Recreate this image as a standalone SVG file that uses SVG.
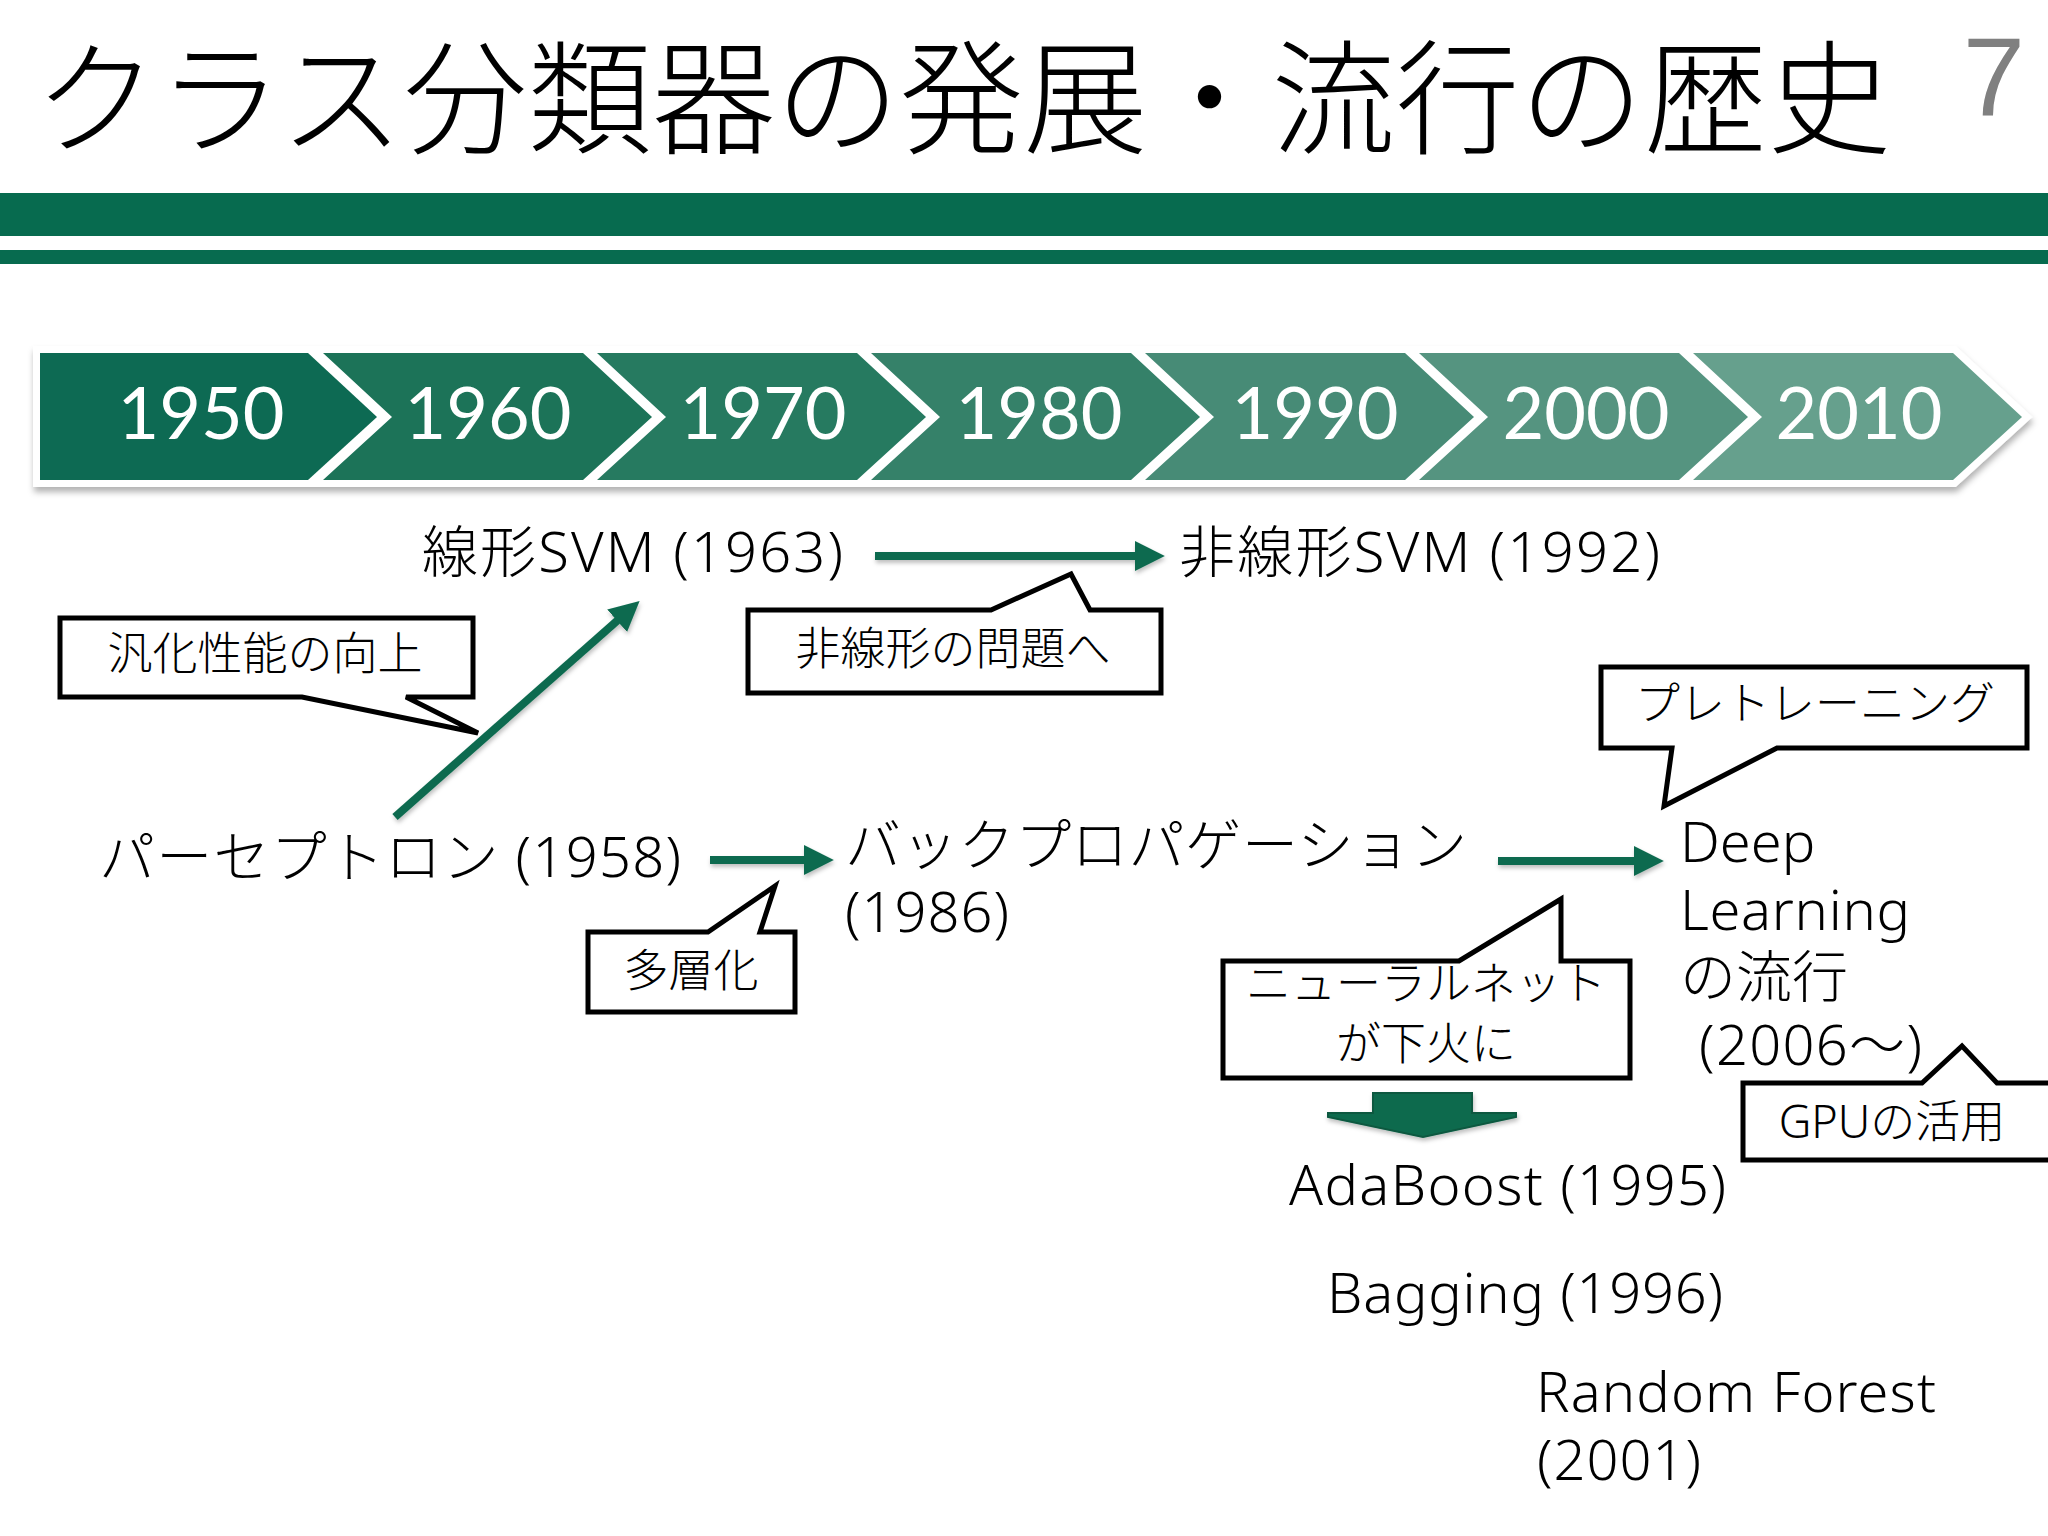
<svg xmlns="http://www.w3.org/2000/svg" width="2048" height="1536" viewBox="0 0 2048 1536">
<defs>
<style>
.t{font-family:"Noto Sans","Noto Sans CJK JP",sans-serif;font-weight:300;fill:#000}
.m{font-size:56px}
.c{font-size:45px;text-anchor:middle}
.yr{font-family:Lato,"Noto Sans",sans-serif;font-size:72px;fill:#fff;text-anchor:middle}
.call{fill:#fff;stroke:#000;stroke-width:5;stroke-linejoin:miter}
.chev{stroke:#fff;stroke-width:14;stroke-linejoin:miter;paint-order:stroke}
.arr{stroke:#0B6B4F;stroke-width:8;fill:none;marker-end:url(#ah)}
</style>
<marker id="ah" markerUnits="userSpaceOnUse" markerWidth="30" markerHeight="30" viewBox="0 0 26 26" refX="1" refY="13" orient="auto">
<path d="M0,0 L26,13 L0,26 Z" fill="#0B6B4F"/>
</marker>
<filter id="sh" x="-5%" y="-20%" width="110%" height="150%">
<feDropShadow dx="1" dy="5" stdDeviation="3" flood-color="#000" flood-opacity="0.3"/>
</filter>
<filter id="ash" x="-10%" y="-50%" width="120%" height="200%">
<feDropShadow dx="1" dy="3" stdDeviation="2" flood-color="#000" flood-opacity="0.25"/>
</filter>
</defs>
<rect width="2048" height="1536" fill="#fff"/>

<g id="title">
<text class="t" x="34" y="144" font-size="124">クラス分類器の発展・流行の歴史</text>
<text x="1994" y="115" font-family="'Liberation Sans',sans-serif" font-size="112" fill="#808080" text-anchor="middle">7</text>
<rect x="0" y="193" width="2048" height="43" fill="#076B4F"/>
<rect x="0" y="250" width="2048" height="14" fill="#076B4F"/>
</g>

<g id="timeline" filter="url(#sh)">
<polygon class="chev" fill="#0F6B52" points="40,353 308,353 377,417 308,480 40,480"/>
<polygon class="chev" fill="#1A7358" points="323,353 583,353 652,417 583,480 323,480 392,417"/>
<polygon class="chev" fill="#277A61" points="597,353 857,353 926,417 857,480 597,480 666,417"/>
<polygon class="chev" fill="#348169" points="871,353 1131,353 1200,417 1131,480 871,480 940,417"/>
<polygon class="chev" fill="#468B76" points="1145,353 1405,353 1474,417 1405,480 1145,480 1214,417"/>
<polygon class="chev" fill="#559480" points="1419,353 1679,353 1748,417 1679,480 1419,480 1488,417"/>
<polygon class="chev" fill="#66A08D" points="1693,353 1953,353 2022,417 1953,480 1693,480 1762,417"/>
</g>
<g id="years">
<text class="yr" x="201" y="439">1950</text>
<text class="yr" x="488" y="439">1960</text>
<text class="yr" x="763" y="439">1970</text>
<text class="yr" x="1039" y="439">1980</text>
<text class="yr" x="1315" y="439">1990</text>
<text class="yr" x="1586" y="439">2000</text>
<text class="yr" x="1859" y="439">2010</text>
</g>

<g id="connectors" filter="url(#ash)">
<line class="arr" x1="875" y1="556" x2="1136" y2="556"/>
<line class="arr" x1="395" y1="817" x2="618" y2="620"/>
<line class="arr" x1="710" y1="860" x2="805" y2="860"/>
<line class="arr" x1="1498" y1="861" x2="1635" y2="861"/>
<polygon id="down-arrow" points="1373,1093 1472,1093 1472,1113 1516,1113 1516,1117 1423,1137 1328,1117 1328,1113 1373,1113" fill="#0B6B4E" stroke="#08583F" stroke-width="2"/>
</g>

<g id="n-linear-svm"><text class="t m" x="422" y="572" textLength="421" lengthAdjust="spacing">線形SVM (1963)</text></g>
<g id="n-nonlinear-svm"><text class="t m" x="1179" y="572" textLength="481" lengthAdjust="spacing">非線形SVM (1992)</text></g>
<g id="n-perceptron"><text class="t m" x="99" y="877" textLength="582" lengthAdjust="spacing">パーセプトロン (1958)</text></g>
<g id="n-backprop"><text class="t m" x="845" y="865" textLength="622" lengthAdjust="spacing">バックプロパゲーション</text><text class="t m" x="845" y="932" textLength="164" lengthAdjust="spacing">(1986)</text></g>
<g id="n-deep">
<text class="t m" x="1680" y="862">Deep</text>
<text class="t m" x="1680" y="930" textLength="230" lengthAdjust="spacing">Learning</text>
<text class="t m" x="1680" y="997">の流行</text>
<text class="t m" x="1699" y="1065" textLength="223" lengthAdjust="spacing">(2006～)</text>
</g>
<g id="n-adaboost"><text class="t m" x="1289" y="1205" textLength="437" lengthAdjust="spacing">AdaBoost (1995)</text></g>
<g id="n-bagging"><text class="t m" x="1327" y="1313" textLength="396" lengthAdjust="spacing">Bagging (1996)</text></g>
<g id="n-rf"><text class="t m" x="1536" y="1412" textLength="400" lengthAdjust="spacing">Random Forest</text><text class="t m" x="1537" y="1480" textLength="164" lengthAdjust="spacing">(2001)</text></g>

<g id="c-generalization">
<path class="call" d="M60,618 H473 V697 H406 L478,733 L302,697 H60 Z"/>
<text class="t c" x="265" y="670">汎化性能の向上</text>
</g>
<g id="c-nonlinear">
<path class="call" d="M748,610 H991 L1071,574 L1090,610 H1161 V693 H748 Z"/>
<text class="t c" x="953" y="665">非線形の問題へ</text>
</g>
<g id="c-multilayer">
<path class="call" d="M588,932 H708 L775,886 L760,932 H795 V1012 H588 Z"/>
<text class="t c" x="691" y="987">多層化</text>
</g>
<g id="c-nn-decline">
<path class="call" d="M1223,961 H1459 L1561,899 V961 H1630 V1078 H1223 Z"/>
<text class="t c" x="1426" y="1000">ニューラルネット</text>
<text class="t c" x="1426" y="1060">が下火に</text>
</g>
<g id="c-pretraining">
<path class="call" d="M1601,667 H2027 V748 H1777 L1664,806 L1672,748 H1601 Z"/>
<text class="t c" x="1815" y="720">プレトレーニング</text>
</g>
<g id="c-gpu">
<path class="call" d="M1743,1083 H1922 L1962,1046 L1997,1083 H2060 V1160 H1743 Z"/>
<text class="t c" x="1892" y="1138">GPUの活用</text>
</g>
</svg>
